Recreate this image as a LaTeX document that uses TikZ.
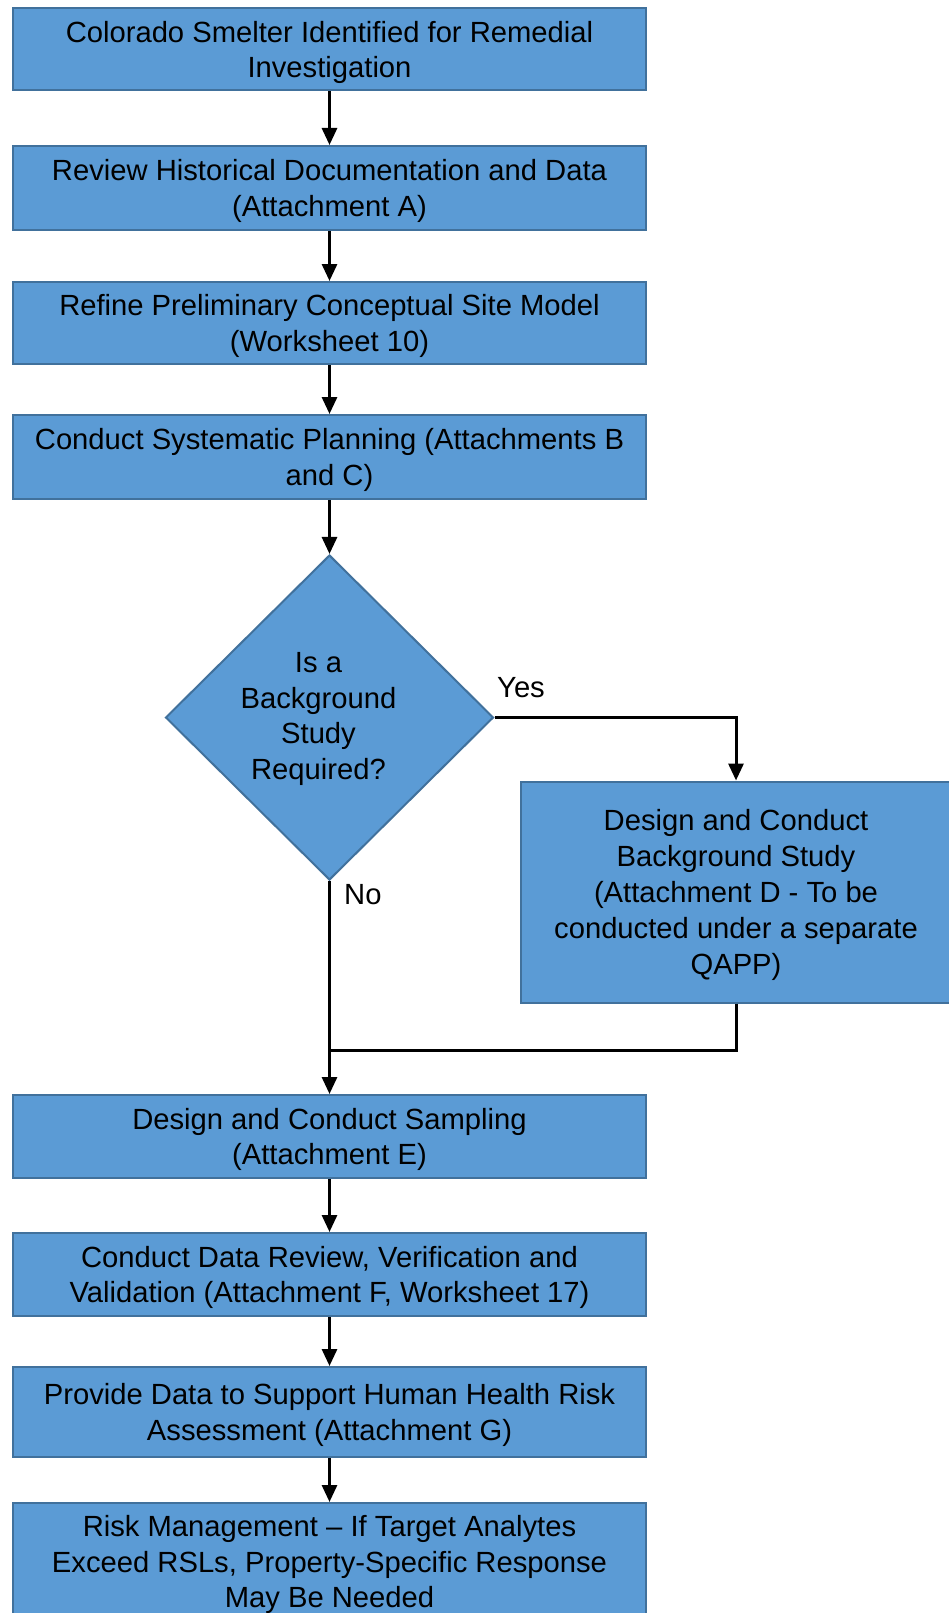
\documentclass[tikz,border=0pt]{standalone}
\usepackage{fontspec}
\setmainfont{Liberation Sans}
\usetikzlibrary{shapes.geometric,arrows.meta}
\definecolor{boxfill}{HTML}{5B9BD5}
\definecolor{boxline}{HTML}{41719C}
\tikzset{
  flowbox/.style={draw=boxline, line width=2pt, fill=boxfill, align=center, inner sep=0pt,
    minimum width=633pt, text depth=0pt, font=\fontsize{29.2}{35.8}\selectfont},
  decbox/.style={diamond, draw=boxline, line width=2pt, fill=boxfill, inner sep=0pt,
    minimum width=328pt, minimum height=325pt},
  flowarrow/.style={line width=3pt, -{Triangle[width=15pt,length=17pt]}},
  flowline/.style={line width=3pt},
  lbl/.style={font=\fontsize{29.2}{35.8}\selectfont, inner sep=0pt},
  dectext/.style={align=center, inner sep=0pt, text depth=0pt, font=\fontsize{29.2}{35.8}\selectfont}
}
\begin{document}
\begin{tikzpicture}[x=1pt,y=-1pt]
\useasboundingbox (0,0) rectangle (949,1613);
\node[flowbox, minimum height=82pt] (b1) at (329.5,49.5) {Colorado Smelter Identified for Remedial\\Investigation};
\node[flowbox, minimum height=84pt] (b2) at (329.5,188) {Review Historical Documentation and Data\\(Attachment A)};
\node[flowbox, minimum height=82pt] (b3) at (329.5,323) {Refine Preliminary Conceptual Site Model\\(Worksheet 10)};
\node[flowbox, minimum height=84pt] (b4) at (329.5,457) {Conduct Systematic Planning (Attachments B\\and C)};
\node[decbox] (dia) at (329.5,717.5) {};
\node[dectext] (diatext) at (318.5,716) {Is a\\Background\\Study\\Required?};
\node[flowbox, minimum width=430pt, minimum height=221pt] (bg) at (736,892) {Design and Conduct\\Background Study\\(Attachment D - To be\\conducted under a separate\\QAPP)};
\node[flowbox, minimum height=83pt] (b5) at (329.5,1136.5) {Design and Conduct Sampling\\(Attachment E)};
\node[flowbox, minimum height=83pt] (b6) at (329.5,1274.5) {Conduct Data Review, Verification and\\Validation (Attachment F, Worksheet 17)};
\node[flowbox, minimum height=90pt] (b7) at (329.5,1412) {Provide Data to Support Human Health Risk\\Assessment (Attachment G)};
\node[flowbox, minimum height=117pt] (b8) at (329.5,1561.5) {Risk Management -- If Target Analytes\\Exceed RSLs, Property-Specific Response\\May Be Needed};
\node[lbl] (yes) at (521,688) {Yes};
\node[lbl, anchor=west] (no) at (344,895) {No};
\coordinate (merge) at (329.5,1050);
\draw[flowarrow] (b1) -- (b2);
\draw[flowarrow] (b2) -- (b3);
\draw[flowarrow] (b3) -- (b4);
\draw[flowarrow] (b4) -- (dia);
\draw[flowarrow] (dia.east) -| (bg.north);
\draw[flowarrow] (dia.south) -- (b5.north);
\draw[flowline] (bg.south) |- (merge);
\draw[flowarrow] (b5) -- (b6);
\draw[flowarrow] (b6) -- (b7);
\draw[flowarrow] (b7) -- (b8);
\end{tikzpicture}
\end{document}
